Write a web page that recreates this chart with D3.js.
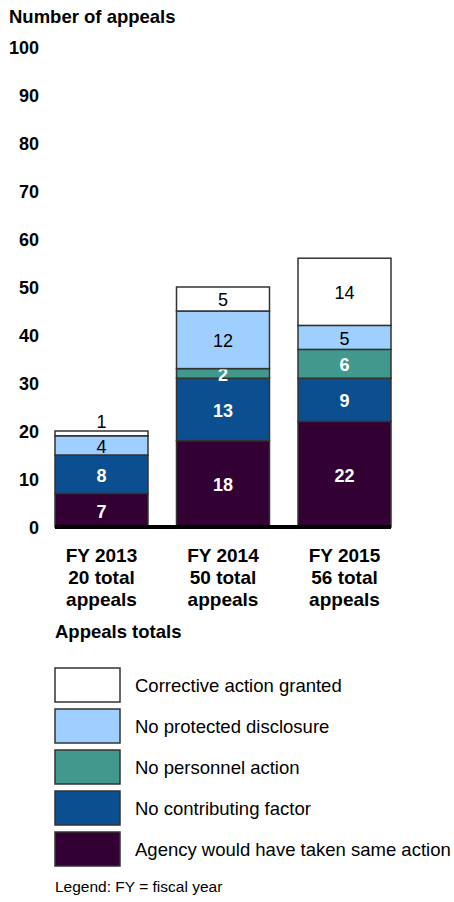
<!DOCTYPE html>
<html lang="en">
<head>
  <meta charset="utf-8">
  <title>Appeals</title>
  <script src="https://d3js.org/d3.v7.min.js"></script>
  <style>
    body { margin: 0; background: #fff; }
    svg text { font-family: Arial, "Liberation Sans", sans-serif; fill: #000; }
  </style>
</head>
<body>
<div id="chart"></div>
<script>
"use strict"

// data
var categories = ["FY 2013", "FY 2014", "FY 2015"];
var catLines = [["FY 2013", "20 total", "appeals"], ["FY 2014", "50 total", "appeals"], ["FY 2015", "56 total", "appeals"]];
var agencyAction = [7, 18, 22];
var noContributing = [8, 13, 9];
var noPersonnel = [0, 2, 6];
var noDisclosure = [4, 12, 5];
var correctiveAction = [1, 5, 14];
var yTicks = [0, 10, 20, 30, 40, 50, 60, 70, 80, 90, 100];

var seriesKeys = ["agency", "contrib", "personnel", "disclosure", "corrective"];
var seriesNames = {
  agency: "Agency would have taken same action",
  contrib: "No contributing factor",
  personnel: "No personnel action",
  disclosure: "No protected disclosure",
  corrective: "Corrective action granted"
};
var colors = {
  agency: "#330033", contrib: "#0b4f91", personnel: "#41998d",
  disclosure: "#9fcfff", corrective: "#ffffff"
};
var darkText = { agency: false, contrib: false, personnel: false, disclosure: true, corrective: true };

var rows = categories.map(function(c, i) {
  return { cat: c, agency: agencyAction[i], contrib: noContributing[i], personnel: noPersonnel[i],
           disclosure: noDisclosure[i], corrective: correctiveAction[i] };
});

var W = 454, H = 902;
var svg = d3.select("#chart").append("svg").attr("width", W).attr("height", H);

var y = d3.scaleLinear().domain([0, 100]).range([527, 47]);
var x = d3.scaleBand().domain(categories).range([55, 391]).paddingInner(0.2346).paddingOuter(0);

svg.append("text").attr("x", 9).attr("y", 23)
   .style("font-size", "18.5px").style("font-weight", "bold")
   .text("Number of appeals");

// y tick labels
svg.selectAll(".ytick").data(yTicks).enter().append("text")
   .attr("class", "ytick")
   .attr("x", 39).attr("y", function(d) { return y(d) + 1; }).attr("dy", "0.36em")
   .attr("text-anchor", "end")
   .style("font-size", "18px").style("font-weight", "bold")
   .text(function(d) { return d; });

var stacked = d3.stack().keys(seriesKeys)(rows);

var layers = svg.selectAll(".layer").data(stacked).enter().append("g").attr("class", "layer");

layers.selectAll("rect").data(function(s) { return s.map(function(d) { d.key = s.key; return d; }); })
  .enter().filter(function(d) { return d[1] - d[0] > 0; })
  .append("rect")
  .attr("x", function(d) { return x(d.data.cat); })
  .attr("y", function(d) { return y(d[1]); })
  .attr("width", x.bandwidth())
  .attr("height", function(d) { return y(d[0]) - y(d[1]); })
  .style("fill", function(d) { return colors[d.key]; })
  .style("stroke", "#333")
  .style("stroke-width", 1.5);

layers.selectAll("text").data(function(s) { return s.map(function(d) { d.key = s.key; return d; }); })
  .enter().filter(function(d) { return d[1] - d[0] > 0; })
  .append("text")
  .attr("x", function(d) { return x(d.data.cat) + x.bandwidth() / 2; })
  .attr("y", function(d) {
    var h = y(d[0]) - y(d[1]);
    if (d.key === "corrective" && h < 8) return y(d[1]) - 9;
    return (y(d[0]) + y(d[1])) / 2 + 1;
  })
  .attr("dy", "0.36em")
  .attr("text-anchor", "middle")
  .style("font-size", "18px")
  .style("font-weight", function(d) { return darkText[d.key] ? "normal" : "bold"; })
  .style("fill", function(d) { return darkText[d.key] ? "#000" : "#fff"; })
  .text(function(d) { return d[1] - d[0]; });

// baseline
svg.append("line")
   .attr("x1", x.range()[0]).attr("x2", x.range()[1])
   .attr("y1", y(0)).attr("y2", y(0))
   .style("stroke", "#000").style("stroke-width", 4);

// x labels
var xl = svg.selectAll(".xlab").data(catLines).enter().append("text")
   .attr("class", "xlab")
   .attr("text-anchor", "middle")
   .style("font-size", "19px").style("font-weight", "bold");
xl.selectAll("tspan").data(function(d, i) { return d.map(function(t) { return { t: t, c: categories[i] }; }); })
  .enter().append("tspan")
  .attr("x", function(d) { return x(d.c) + x.bandwidth() / 2; })
  .attr("y", function(d, j) { return 562 + j * 22; })
  .text(function(d) { return d.t; });

svg.append("text").attr("x", 55).attr("y", 638)
   .style("font-size", "18.5px").style("font-weight", "bold")
   .text("Appeals totals");

// legend
var legendKeys = seriesKeys.slice().reverse();
var lg = svg.selectAll(".leg").data(legendKeys).enter().append("g")
   .attr("class", "leg")
   .attr("transform", function(d, i) { return "translate(55," + (668 + i * 41) + ")"; });
lg.append("rect").attr("width", 65).attr("height", 34)
  .style("fill", function(d) { return colors[d]; })
  .style("stroke", "#333").style("stroke-width", 1.5);
lg.append("text").attr("x", 80).attr("y", 17).attr("dy", "0.36em")
  .style("font-size", "18.5px")
  .text(function(d) { return seriesNames[d]; });

svg.append("text").attr("x", 55).attr("y", 892)
   .style("font-size", "15.5px")
   .text("Legend: FY = fiscal year");
</script>
</body>
</html>
